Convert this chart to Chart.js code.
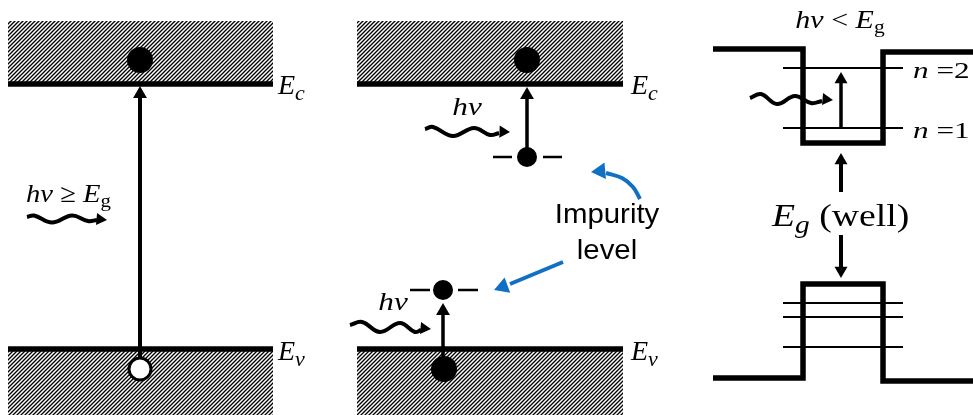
<!DOCTYPE html>
<html>
<head>
<meta charset="utf-8">
<script src="https://cdn.jsdelivr.net/npm/chart.js@4.4.0/dist/chart.umd.min.js"></script>
<style>
  html, body { margin: 0; padding: 0; background: #fff; }
  #wrap { width: 973px; height: 415px; }
</style>
</head>
<body>
<div id="wrap"><canvas id="diagram" width="973" height="415"></canvas></div>
<script>
// Optical absorption: band-to-band, through impurity levels, and inside a quantum well.
// Everything lives in a 973 x 415 drawing space with y growing downward.

// bulk band diagrams (left and middle)
const bandSpans = [[8, 273], [357, 623]];
const conductionEdge = 84;
const valenceEdge = 349;
const conductionTop = 21;
const valenceBottom = 415;
const electrons = [[140, 60], [527, 60], [444, 369]];
const holes = [[140, 369]];
const impurityDots = [[527, 157], [443, 290]];
const impurityDashes = [[493, 512, 157], [543, 562, 157], [410, 430, 290], [458, 478, 290]];
// vertical transitions: x, start y, arrow tip y
const transitions = [[140, 357, 86], [527, 150, 87], [443, 362, 303]];

// quantum well (right)
const wellCB = [[713, 49], [803, 49], [803, 143], [883, 143], [883, 52], [973, 52]];
const wellVB = [[713, 378], [803, 378], [803, 284], [883, 284], [883, 381], [973, 381]];
const subbandLevels = [68, 128, 303, 317, 347];
const subbandSpan = [783, 903];
const wellAxisX = 841;
const intersubband = [128, 72];
const wellGapArrows = [[192, 153], [235, 278]];

// incoming photons: wave path and arrow tip [x, y, heading in degrees]
const photonWaves = [
  [[27, 217], [34, 215.5], [52, 222.5], [72, 215.5], [88, 221], [97, 220]],
  [[425, 129], [433, 127], [453, 136], [474, 128], [490, 135], [499, 133]],
  [[350, 325], [362, 322], [380, 332], [400, 323], [415, 332], [421, 330]],
  [[750, 98], [761, 94], [777, 104], [795, 96], [811, 103], [822, 101]]
];
const photonTips = [[107, 220, 95], [510, 132, 92], [431, 329, 95], [833, 100, 95]];

// pointers from the "Impurity level" note
const impurityPointers = [
  [[640, 199], [633, 187], [622, 178], [606, 173]],
  [[563, 262], [510, 284]]
];
const pointerTips = [[591, 172, -95], [494, 290, -110]];

const BLUE = '#1070c4';

function hatchPattern() {
  const c = document.createElement('canvas');
  c.width = 4; c.height = 4;
  const g = c.getContext('2d');
  g.strokeStyle = '#000';
  g.lineWidth = 1.35;
  g.beginPath();
  g.moveTo(-1, 5); g.lineTo(5, -1);
  g.moveTo(-1, 1); g.lineTo(1, -1);
  g.moveTo(3, 5); g.lineTo(5, 3);
  g.stroke();
  return g.createPattern(c, 'repeat');
}

const xy = pts => pts.map(([x, y]) => ({ x, y }));
const datasets = [];

function path(points, width, color, tension = 0, order = 5) {
  datasets.push({
    data: xy(points), borderColor: color, borderWidth: width, tension,
    pointRadius: 0, fill: false, order,
    borderCapStyle: 'butt', borderJoinStyle: 'miter'
  });
}

function dots(points, r, fillColor, borderWidth = 0) {
  datasets.push({
    data: xy(points), showLine: false, pointStyle: 'circle',
    pointRadius: r, pointBackgroundColor: fillColor,
    pointBorderColor: '#000', pointBorderWidth: borderWidth, order: 1
  });
}

// triangle point rotated to face the heading, placed so its apex sits on the tip
function arrowHead([x, y, heading], r, color) {
  const a = heading * Math.PI / 180;
  const cx = x - r * Math.sin(a);
  const cy = y + r * Math.cos(a);
  datasets.push({
    data: [{ x: cx, y: cy }], showLine: false, pointStyle: 'triangle',
    pointRadius: r, pointRotation: heading, pointBackgroundColor: color,
    pointBorderWidth: 0, pointBorderColor: color, order: 2
  });
}

function hatch(x0, x1, yLine, yTo) {
  datasets.push({
    data: xy([[x0, yLine], [x1, yLine]]), borderWidth: 0, pointRadius: 0,
    fill: { value: yTo }, backgroundColor: hatchPattern(), order: 10
  });
}

// bulk bands
bandSpans.forEach(([x0, x1]) => {
  hatch(x0, x1, conductionTop, conductionEdge);
  hatch(x0, x1, valenceEdge, valenceBottom);
  path([[x0, conductionEdge], [x1, conductionEdge]], 5.5, '#000');
  path([[x0, valenceEdge], [x1, valenceEdge]], 5.5, '#000');
});
impurityDashes.forEach(([x0, x1, y]) => path([[x0, y], [x1, y]], 2.5, '#000'));
transitions.forEach(([x, y0, tip], i) => {
  path([[x, y0], [x, tip + 8]], i === 0 ? 4 : 3.5, '#000');
  arrowHead([x, tip, 0], 8, '#000');
});
dots(electrons, 13, '#000');
dots(impurityDots, 10, '#000');
dots(holes, 11, '#fff', 3);

// quantum well
path(wellCB, 5.5, '#000');
path(wellVB, 5.5, '#000');
subbandLevels.forEach(y => path([[subbandSpan[0], y], [subbandSpan[1], y]], 2, '#000', 0, 6));
path([[wellAxisX, intersubband[0]], [wellAxisX, intersubband[1] + 7]], 3.5, '#000');
arrowHead([wellAxisX, intersubband[1], 0], 7.5, '#000');
wellGapArrows.forEach(([y0, tip]) => {
  const up = tip < y0;
  path([[wellAxisX, y0], [wellAxisX, up ? tip + 7 : tip - 7]], 4, '#000');
  arrowHead([wellAxisX, tip, up ? 0 : 180], 7.5, '#000');
});

// photons
photonWaves.forEach(w => path(w, 4, '#000', 0.4, 3));
photonTips.forEach(t => arrowHead(t, 7, '#000'));

// blue pointers
impurityPointers.forEach(p => path(p, 4, BLUE, 0.4, 3));
pointerTips.forEach(t => arrowHead(t, 9.5, BLUE));

// text labels; sx widens the glyphs horizontally
const SERIF = '"Liberation Serif", "Times New Roman", serif';
const SANS = '"Liberation Sans", Arial, sans-serif';
const it = s => `italic ${s}px ${SERIF}`;
const rm = s => `${s}px ${SERIF}`;

const labels = [
  { x: 278, y: 94, runs: [['E', it(28)], ['c', it(22), 6]] },
  { x: 278, y: 360, runs: [['E', it(28)], ['v', it(22), 6]] },
  { x: 631, y: 94, runs: [['E', it(28)], ['c', it(22), 6]] },
  { x: 631, y: 360, runs: [['E', it(28)], ['v', it(22), 6]] },
  { x: 26, y: 202, sx: 1.1, runs: [['hν', it(26)], [' ≥ ', rm(26)], ['E', it(26)], ['g', rm(19), 5]] },
  { x: 467, y: 115, sx: 1.2, align: 'center', runs: [['hν', it(26)]] },
  { x: 393, y: 310, sx: 1.2, align: 'center', runs: [['hν', it(26)]] },
  { x: 840, y: 28, sx: 1.2, align: 'center', runs: [['hν', it(25)], [' < ', rm(25)], ['E', it(25)], ['g', rm(18), 5]] },
  { x: 772, y: 226, sx: 1.18, runs: [['E', it(32)], ['g', it(25), 7], [' (well)', rm(32)]] },
  { x: 913, y: 78, sx: 1.3, runs: [['n', it(24)], [' =2', rm(24)]] },
  { x: 913, y: 138, sx: 1.3, runs: [['n', it(24)], [' =1', rm(24)]] },
  { x: 607, y: 223, sx: 1.05, align: 'center', runs: [['Impurity', `28px ${SANS}`]] },
  { x: 607, y: 259, sx: 1.05, align: 'center', runs: [['level', `28px ${SANS}`]] }
];

const labelPlugin = {
  id: 'labels',
  afterDraw(chart) {
    const { ctx, scales } = chart;
    labels.forEach(lb => {
      const sx = lb.sx || 1;
      const widths = lb.runs.map(([t, f]) => { ctx.font = f; return ctx.measureText(t).width; });
      const total = widths.reduce((a, b) => a + b, 0);
      let x0 = scales.x.getPixelForValue(lb.x);
      const y0 = scales.y.getPixelForValue(lb.y);
      if (lb.align === 'center') x0 -= total * sx / 2;
      ctx.save();
      ctx.fillStyle = '#000';
      ctx.textBaseline = 'alphabetic';
      ctx.textAlign = 'left';
      ctx.translate(x0, y0);
      ctx.scale(sx, 1);
      let x = 0;
      lb.runs.forEach(([t, f, dy = 0], i) => {
        ctx.font = f;
        ctx.fillText(t, x, dy);
        x += widths[i];
      });
      ctx.restore();
    });
  }
};

new Chart(document.getElementById('diagram'), {
  type: 'line',
  data: { datasets },
  options: {
    responsive: false,
    animation: false,
    events: [],
    layout: { padding: 0, autoPadding: false },
    plugins: { legend: { display: false }, tooltip: { enabled: false } },
    scales: {
      x: { type: 'linear', min: 0, max: 973, display: false },
      y: { type: 'linear', min: 0, max: 415, reverse: true, display: false }
    }
  },
  plugins: [labelPlugin]
});
</script>
</body>
</html>
